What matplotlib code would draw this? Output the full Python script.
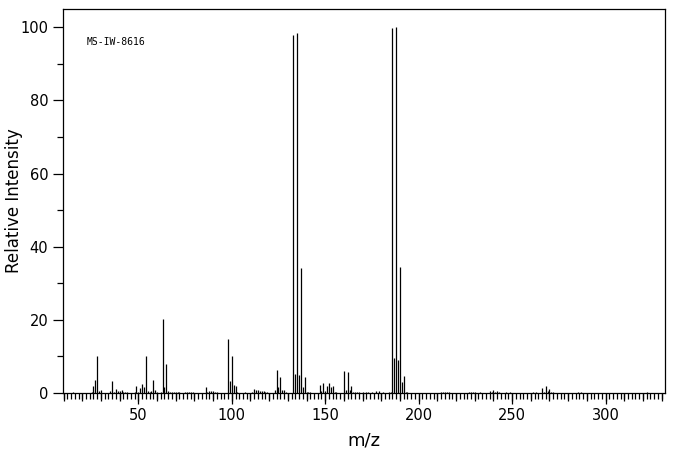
import matplotlib
matplotlib.use("Agg")
import matplotlib.pyplot as plt
from matplotlib.ticker import MultipleLocator

# m/z values and relative intensities
mz = [15, 25, 26, 27, 28, 29, 30, 35, 36, 37, 38, 39, 40, 41, 42, 43, 44,
      48, 49, 50, 51, 52, 53, 54, 55, 56, 57, 58, 59, 60, 62, 63, 64, 65,
      66, 67, 68, 69, 70, 71, 72, 75, 76, 77, 78, 79,
      86, 87, 88, 89, 90, 91, 92, 98, 99, 100, 101, 102, 103, 107,
      111, 112, 113, 114, 115, 116, 117, 118, 119,
      123, 124, 125, 126, 127, 128, 129,
      133, 134, 135, 136, 137, 138, 139, 140, 141, 142,
      147, 148, 149, 150, 151, 152, 153, 154, 155, 156,
      160, 161, 162, 163, 164, 165, 166, 167, 168,
      170, 172, 173, 175, 177, 179, 181, 184, 185,
      186, 187, 188, 189, 190, 191, 192, 193, 194,
      212, 213, 214, 215, 216, 227, 228, 229, 230, 233,
      238, 239, 240, 241, 242, 243, 247, 249, 261, 263,
      266, 267, 268, 269, 270, 271, 272, 285, 287, 322]
intensity = [0.3, 0.4, 2.0, 3.6, 10.0, 0.6, 0.8, 0.5, 3.4, 0.4, 1.1, 0.6, 0.6, 0.8, 0.4, 0.4, 0.3,
             0.4, 2.0, 0.4, 1.3, 2.5, 1.5, 10.0, 0.5, 0.4, 0.5, 3.6, 0.8, 0.4, 0.4, 20.2, 1.7, 7.8,
             0.5, 0.3, 0.3, 0.3, 0.3, 0.3, 0.3, 0.3, 0.3, 0.3, 0.3, 0.3,
             1.5, 0.4, 0.5, 0.6, 0.6, 0.4, 0.3, 14.8, 3.4, 10.1, 2.2, 2.0, 0.4, 0.3,
             0.3, 1.2, 0.8, 0.9, 0.5, 0.5, 0.5, 0.3, 0.3,
             0.9, 6.3, 1.6, 4.5, 0.9, 0.9, 0.4,
             97.9, 5.2, 98.4, 5.0, 34.3, 1.7, 4.5, 0.4, 0.4, 0.3,
             2.2, 0.6, 2.6, 0.6, 1.9, 2.7, 1.5, 2.0, 0.4, 0.4,
             6.0, 0.9, 5.8, 0.9, 2.0, 0.4, 0.4, 0.3, 0.3,
             0.3, 0.3, 0.3, 0.3, 0.6, 0.6, 0.3, 0.3, 0.3,
             99.7, 9.6, 100.0, 9.1, 34.4, 3.0, 4.7, 0.3, 0.3,
             0.3, 0.3, 0.3, 0.3, 0.3, 0.3, 0.3, 0.3, 0.3, 0.3,
             0.6, 0.3, 0.8, 0.3, 0.6, 0.3, 0.3, 0.3, 0.3, 0.3,
             1.3, 0.3, 1.9, 0.5, 1.1, 0.3, 0.3, 0.3, 0.3, 0.3]

fig = plt.figure(figsize=(6.76, 4.55), dpi=100)
ax = fig.add_axes([0.0932, 0.1363, 0.8905, 0.8439])

ax.vlines(mz, 0, intensity, color="black", lw=0.9)

ax.set_xlim(9.7, 331.8)
ax.set_ylim(0, 105)

# x ticks: labelled every 50, minor every 2, medium every 10
ax.xaxis.set_major_locator(MultipleLocator(50))
ax.xaxis.set_minor_locator(MultipleLocator(2))
ax.yaxis.set_major_locator(MultipleLocator(20))
ax.yaxis.set_minor_locator(MultipleLocator(10))
ax.tick_params(axis="x", which="major", length=8, width=0.9, labelsize=10.5, pad=3)
ax.tick_params(axis="x", which="minor", length=4, width=0.9)
ax.tick_params(axis="y", which="major", length=7.5, width=0.9, labelsize=10.5, pad=3)
ax.tick_params(axis="y", which="minor", length=4, width=0.9)

sec = ax.secondary_xaxis("bottom")
sec.set_xticks(range(10, 340, 10))
sec.tick_params(length=6, width=0.9, labelbottom=False)
sec.spines["bottom"].set_visible(False)

for s in ax.spines.values():
    s.set_linewidth(0.9)

ax.set_xlabel("m/z", fontsize=13, labelpad=6)
ax.set_ylabel("Relative Intensity", fontsize=12)
ax.yaxis.set_label_coords(-0.067, 0.5)

ax.text(0.04, 0.915, "MS-IW-8616", transform=ax.transAxes,
        fontsize=7, family="DejaVu Sans Mono", va="center")

fig.savefig("out.png", dpi=100)
